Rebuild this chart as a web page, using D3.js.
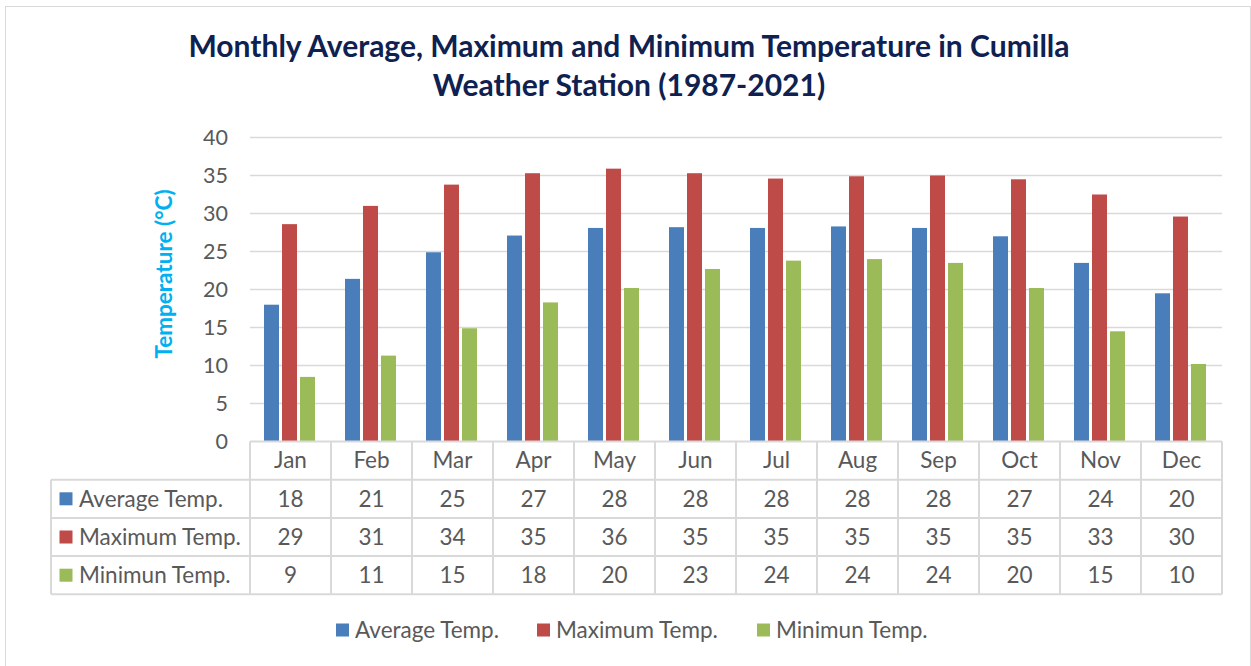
<!DOCTYPE html>
<html>
<head>
<meta charset="utf-8">
<script src="https://cdn.jsdelivr.net/npm/d3@7"></script>
<style>
  html, body { margin: 0; padding: 0; background: #ffffff; }
  svg { display: block; font-family: Lato, "Open Sans", sans-serif; }
</style>
</head>
<body>
<svg id="chart" width="1251" height="666"></svg>
<script>
// Monthly temperatures, Cumilla weather station (1987-2021), °C
const months = ["Jan", "Feb", "Mar", "Apr", "May", "Jun", "Jul", "Aug", "Sep", "Oct", "Nov", "Dec"];
const seriesNames = ["Average Temp.", "Maximum Temp.", "Minimun Temp."];
const avgTemp = [18.0, 21.4, 24.9, 27.1, 28.1, 28.2, 28.1, 28.3, 28.1, 27.0, 23.5, 19.5];
const maxTemp = [28.6, 31.0, 33.8, 35.3, 35.9, 35.3, 34.6, 34.9, 35.0, 34.5, 32.5, 29.6];
const minTemp = [8.5, 11.3, 14.9, 18.3, 20.2, 22.7, 23.8, 24.0, 23.5, 20.2, 14.5, 10.2];
const yTicks = [0, 5, 10, 15, 20, 25, 30, 35, 40];
const seriesColors = ["#4a7ebb", "#be4b48", "#9bbb59"];

const seriesValues = [avgTemp, maxTemp, minTemp];
const series = seriesNames.map((name, i) => ({ name, color: seriesColors[i], values: seriesValues[i] }));

const svg = d3.select("#chart");
const gridColor = "#d9d9d9";
const textColor = "#595959";
const bodySize = 22.5;

// chart frame
svg.append("rect")
  .attr("x", 5.5).attr("y", 6.5)
  .attr("width", 1245).attr("height", 700)
  .attr("fill", "#ffffff")
  .attr("stroke", "#d9d9d9").attr("stroke-width", 1);

// title
const title = svg.append("text")
  .attr("text-anchor", "middle")
  .attr("fill", "#0e2150")
  .attr("font-weight", 700)
  .attr("font-size", 30);
title.append("tspan").attr("x", 629).attr("y", 57)
  .text("Monthly Average, Maximum and Minimum Temperature in Cumilla");
title.append("tspan").attr("x", 629).attr("y", 96)
  .text("Weather Station (1987-2021)");

// scales
const plotLeft = 250, plotRight = 1222, plotTop = 137.5, plotBottom = 441.5;
const x = d3.scaleBand().domain(months).range([plotLeft, plotRight]);
const xs = d3.scaleBand().domain(seriesNames).range([14, 65]).paddingInner(1 / 6);
const y = d3.scaleLinear().domain([0, 40]).range([plotBottom, plotTop]);

// gridlines
svg.append("g")
  .selectAll("line")
  .data(yTicks.filter(t => t > 0))
  .join("line")
  .attr("x1", plotLeft).attr("x2", plotRight)
  .attr("y1", d => y(d)).attr("y2", d => y(d))
  .attr("stroke", gridColor).attr("stroke-width", 1.5);

// y axis labels
const yAxis = svg.append("g")
  .attr("transform", `translate(${plotLeft - 22},0)`)
  .call(d3.axisLeft(y).tickValues(yTicks).tickSize(0).tickPadding(0));
yAxis.select(".domain").remove();
yAxis.selectAll("text")
  .attr("font-family", "Lato, sans-serif")
  .attr("font-size", 21.5)
  .attr("fill", textColor);

// y axis title
svg.append("text")
  .attr("transform", `translate(172,274) rotate(-90)`)
  .attr("text-anchor", "middle")
  .attr("fill", "#00b0f0")
  .attr("font-weight", 700)
  .attr("font-size", 22.5)
  .text("Temperature (°C)");

// bars
const groups = svg.append("g")
  .selectAll("g")
  .data(series)
  .join("g")
  .attr("fill", d => d.color);
groups.selectAll("rect")
  .data(s => s.values.map((v, i) => ({ name: s.name, month: months[i], value: v })))
  .join("rect")
  .attr("x", d => x(d.month) + xs(d.name))
  .attr("width", xs.bandwidth())
  .attr("y", d => y(d.value))
  .attr("height", d => y(0) - y(d.value));

// data table
const rowH = 38.2;
const headerTop = plotBottom;
const rowTops = [headerTop + rowH, headerTop + 2 * rowH, headerTop + 3 * rowH];
const tableBottom = headerTop + 4 * rowH;
const tableLeft = 51;
const table = svg.append("g").attr("stroke", gridColor).attr("stroke-width", 2).attr("fill", "none");

// horizontal rules
table.append("line").attr("x1", plotLeft).attr("x2", plotRight).attr("y1", headerTop).attr("y2", headerTop);
[...rowTops, tableBottom].forEach(ty => {
  table.append("line").attr("x1", tableLeft).attr("x2", plotRight).attr("y1", ty).attr("y2", ty);
});
// vertical rules
table.append("line").attr("x1", tableLeft).attr("x2", tableLeft).attr("y1", rowTops[0]).attr("y2", tableBottom);
months.forEach(m => {
  table.append("line").attr("x1", x(m)).attr("x2", x(m)).attr("y1", headerTop).attr("y2", tableBottom);
});
table.append("line").attr("x1", plotRight).attr("x2", plotRight).attr("y1", headerTop).attr("y2", tableBottom);

// month headers
svg.append("g")
  .selectAll("text")
  .data(months)
  .join("text")
  .attr("x", d => x(d) + x.bandwidth() / 2)
  .attr("y", headerTop + rowH / 2)
  .attr("dy", "0.35em")
  .attr("text-anchor", "middle")
  .attr("font-size", bodySize)
  .attr("fill", textColor)
  .text(d => d);

// series rows
const fmt = d3.format(".0f");
series.forEach((s, si) => {
  const cy = rowTops[si] + rowH / 2;
  svg.append("rect")
    .attr("x", 59.5).attr("y", cy - 6.5)
    .attr("width", 13).attr("height", 13)
    .attr("fill", s.color);
  svg.append("text")
    .attr("x", 79).attr("y", cy).attr("dy", "0.35em")
    .attr("font-size", bodySize)
    .attr("fill", textColor)
    .text(s.name);
  svg.append("g")
    .selectAll("text")
    .data(s.values)
    .join("text")
    .attr("x", (d, i) => x(months[i]) + x.bandwidth() / 2)
    .attr("y", cy).attr("dy", "0.35em")
    .attr("text-anchor", "middle")
    .attr("font-size", bodySize)
    .attr("fill", textColor)
    .text(d => fmt(Math.round(d)));
});

// legend
const legendX = [336, 537, 757];
const legend = svg.append("g")
  .selectAll("g")
  .data(series)
  .join("g")
  .attr("transform", (d, i) => `translate(${legendX[i]},630)`);
legend.append("rect")
  .attr("x", 0).attr("y", -6.5)
  .attr("width", 13).attr("height", 13)
  .attr("fill", d => d.color);
legend.append("text")
  .attr("x", 19).attr("dy", "0.35em")
  .attr("font-size", bodySize)
  .attr("fill", textColor)
  .text(d => d.name);
</script>
</body>
</html>
